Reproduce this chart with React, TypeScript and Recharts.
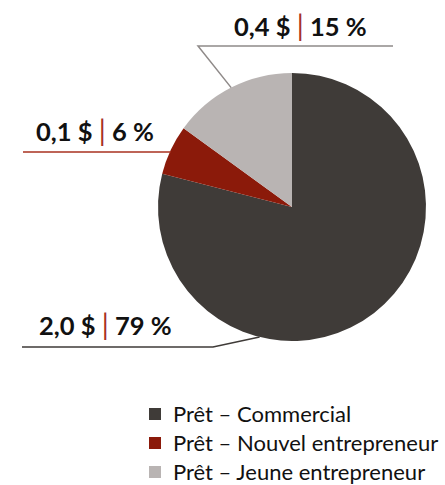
import { Pie, PieChart, Cell, Legend } from 'recharts'

const categories = ['Prêt – Commercial', 'Prêt – Nouvel entrepreneur', 'Prêt – Jeune entrepreneur']
const amounts = ['2,0 $', '0,1 $', '0,4 $']
const percents = [79, 6, 15]

const COLORS = ['#3f3b38', '#8b1a0a', '#b9b4b3']
const LINE_COLORS = ['#3f3b38', '#a8301f', '#8f8a89']
const SEP = '#a8301f'
const FONT = 'Lato, sans-serif'
const RADIAN = Math.PI / 180

const data = categories.map((name, i) => ({ name, value: percents[i], amount: amounts[i] }))

// label placement per slice: anchor angle (null = mid), elbow, line end, text pos
const LABELS = [
  { angle: -104, elbow: [213, 347], endX: 22, textX: 39, textY: 335 },
  { angle: null, elbow: null, endX: 23, textX: 36, textY: 141 },
  { angle: null, elbow: [198, 46], endX: 393, textX: 234, textY: 36 },
]

function renderLabel(props: any) {
  const { cx, cy, midAngle, outerRadius, index } = props
  const cfg = LABELS[index]
  const a = (cfg.angle ?? midAngle) * RADIAN
  const x0 = cx + outerRadius * Math.cos(a)
  const y0 = cy - outerRadius * Math.sin(a)
  const pts = cfg.elbow
    ? `M${x0},${y0} L${cfg.elbow[0]},${cfg.elbow[1]} L${cfg.endX},${cfg.elbow[1]}`
    : `M${x0},${y0 + 2} L${cfg.endX},${y0 + 2}`
  const d = data[index]
  return (
    <g key={`lbl-${index}`}>
      <path d={pts} stroke={LINE_COLORS[index]} strokeWidth={1.5} fill="none" />
      <text x={cfg.textX} y={cfg.textY} fontFamily={FONT} fontSize={25.5} fontWeight={700} fill="#111">
        <tspan>{d.amount} </tspan>
        <tspan fill={SEP} fontWeight={400} fontSize={28}>|</tspan>
        <tspan> {d.value} %</tspan>
      </text>
    </g>
  )
}

function renderLegend() {
  return (
    <div style={{ fontFamily: FONT, fontSize: 22, color: '#111' }}>
      {data.map((d, i) => (
        <div key={d.name} style={{ display: 'flex', alignItems: 'center', height: 29 }}>
          <span style={{ width: 12, height: 12, background: COLORS[i], marginRight: 12, display: 'inline-block' }} />
          <span>{d.name}</span>
        </div>
      ))}
    </div>
  )
}

export default function App() {
  return (
    <div style={{ position: 'absolute', left: 0, top: 0, width: 445, height: 485, background: '#fff' }}>
      <PieChart width={445} height={485} margin={{ top: 0, right: 0, bottom: 0, left: 0 }}>
        <Pie
          data={data}
          dataKey="value"
          nameKey="name"
          cx={292}
          cy={207}
          outerRadius={134}
          startAngle={90}
          endAngle={-270}
          stroke="none"
          label={renderLabel}
          labelLine={false}
          isAnimationActive={false}
        >
          {data.map((_, i) => (
            <Cell key={`cell-${i}`} fill={COLORS[i]} />
          ))}
        </Pie>
        <Legend
          content={renderLegend}
          layout="vertical"
          wrapperStyle={{ position: 'absolute', left: 149, top: 399, width: 300 }}
        />
      </PieChart>
    </div>
  )
}
